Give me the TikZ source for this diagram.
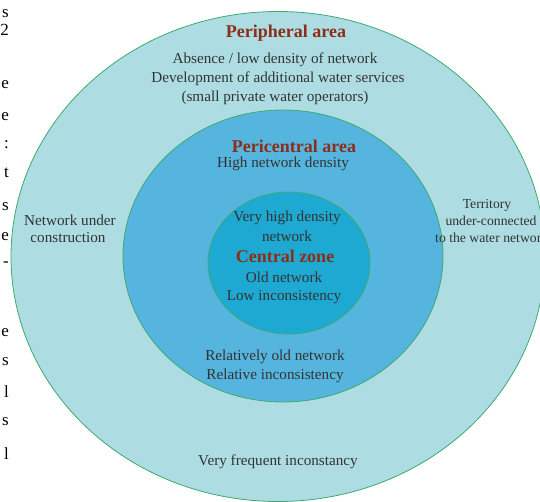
\documentclass[tikz,border=0pt]{standalone}
\usepackage{fontspec}
\setmainfont{Liberation Serif}
\definecolor{outerfill}{HTML}{ADDDE3}
\definecolor{midfill}{HTML}{55B5DF}
\definecolor{innerfill}{HTML}{1EA9D2}
\definecolor{ringline}{HTML}{3DAA6E}
\definecolor{titlered}{HTML}{8B2E1A}
\definecolor{bodytext}{HTML}{333333}
\tikzset{
  ring/.style={draw=ringline, line width=0.8pt},
  body/.style={text=bodytext, font=\fontsize{15.2}{17}\selectfont, align=center, inner sep=0pt},
  small/.style={text=bodytext, font=\fontsize{13.7}{15}\selectfont, align=center, inner sep=0pt},
  title/.style={text=titlered, font=\fontsize{18}{20}\selectfont\bfseries, align=center, inner sep=0pt},
  frag/.style={text=black, font=\fontsize{17}{19}\selectfont, anchor=east, inner sep=0pt}
}
\begin{document}
\begin{tikzpicture}[x=1pt,y=-1pt]
\useasboundingbox (0,0) rectangle (540,502);
\clip (0,0) rectangle (540,502);
\fill[white] (0,0) rectangle (540,502);
% rings
\draw[ring, fill=outerfill] (278,256.5) ellipse [x radius=267, y radius=245];
\draw[ring, fill=midfill] (283,256) ellipse [x radius=160, y radius=146];
\draw[ring, fill=innerfill] (289,263) ellipse [x radius=81, y radius=71];
% peripheral
\node[title] (pt) at (286,33) {Peripheral area};
\node[body] (p1) at (275,60) {Absence / low density of network};
\node[body] (p2) at (278,79) {Development of additional water services};
\node[body] (p3) at (275,98) {(small private water operators)};
\node[body] (pl1) at (70,220) {Network under};
\node[body] (pl2) at (68,238) {construction};
\node[small] (pr1) at (487,205) {Territory};
\node[small] (pr2) at (491,221) {under-connected};
\node[small, anchor=west] (pr3) at (435,238) {to the water network};
\node[body] (pb) at (278,462) {Very frequent inconstancy};
% pericentral
\node[title] (mt) at (294,146) {Pericentral area};
\node[body] (m1) at (283,164) {High network density};
\node[body] (m2) at (275,357) {Relatively old network};
\node[body] (m3) at (275,376) {Relative inconsistency};
% central
\node[body] (c1) at (287,218) {Very high density};
\node[body] (c2) at (287,236) {network};
\node[title] (ct) at (285,256) {Central zone};
\node[body] (c3) at (284,277) {Old network};
\node[body] (c4) at (284,297) {Low inconsistency};
% page text fragments at left edge
\node[frag] (f1) at (9,14) {s};
\node[frag] (f2) at (9,30) {2};
\node[frag] (f3) at (9,85) {e};
\node[frag] (f4) at (9,117) {e};
\node[frag] (f5) at (9,145) {:};
\node[frag] (f6) at (9,173) {t};
\node[frag] (f7) at (9,207) {s};
\node[frag] (f8) at (9,237) {e};
\node[frag] (f9) at (9,264) {-};
\node[frag] (f10) at (9,333) {e};
\node[frag] (f11) at (9,362) {s};
\node[frag] (f12) at (9,392) {l};
\node[frag] (f13) at (9,422) {s};
\node[frag] (f14) at (9,454) {l};
\end{tikzpicture}
\end{document}
